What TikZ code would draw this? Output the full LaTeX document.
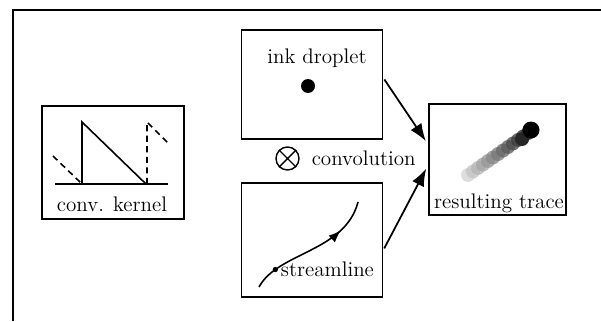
\documentclass[tikz,border=0pt]{standalone}
\usepackage{xcolor}
\usepackage{tikz}
\usetikzlibrary{arrows.meta,positioning,calc,decorations.markings}
\tikzset{
    panel/.style={rectangle, draw, line width=1pt, inner sep=0pt},
    caption/.style={font=\large, inner sep=1pt},
    kern/.style={line width=0.9pt},
    kerndash/.style={line width=0.9pt, dash pattern=on 3.5pt off 2.5pt},
    flow/.style={-{Latex[length=3.5mm, width=2.6mm]}, line width=1pt},
    frame/.style={line width=0.6pt},
}

\begin{document}
\begin{tikzpicture}[x=0.02cm, y=-0.02cm]
    \useasboundingbox (0,0) rectangle (601,321);
    \draw[frame] (13,321) |- (601,10);

    % panels
    \node[panel, minimum width=2.84cm, minimum height=2.26cm] (kernel) at (113,162.5) {};
    \node[panel, minimum width=2.82cm, minimum height=2.18cm] (ink) at (312,84.5) {};
    \node[panel, minimum width=2.82cm, minimum height=2.28cm] (stream) at (312,240) {};
    \node[panel, minimum width=2.74cm, minimum height=2.22cm] (trace) at (497.5,159.5) {};

    % kernel
    \draw[kern] (55,184) -- (168,184);
    \draw[kern] (82,184) -- (82,122) -- (146,184);
    \draw[kerndash] (53,156) -- (81,183);
    \draw[kerndash] (147,184) -- (147,122) -- (168,143);
    \node[caption] (kernellbl) at (112,204) {conv. kernel};

    % ink droplet
    \node[caption] (inklbl) at (317,58) {ink droplet};
    \node[circle, fill, minimum size=0.28cm, inner sep=0pt] (drop) at (308,86) {};

    % convolution
    \node[circle, draw, line width=0.8pt, minimum size=0.46cm, inner sep=0pt] (otimes) at (287.5,158.5) {};
    \draw[line width=0.8pt] (otimes.north west) -- (otimes.south east) (otimes.north east) -- (otimes.south west);
    \node[caption, right=0.2cm of otimes] (conv) {convolution};

    % streamline
    \draw[kern, postaction={decorate}, decoration={markings, mark=at position 0.75 with {\arrow{Latex[length=2.5mm]}}}]
        (259,287) .. controls (278,252) and (345,252) .. (358,202)
        node[pos=0.2, circle, fill, inner sep=0pt, minimum size=3pt] (sdot) {};
    \node[caption, right=0pt of sdot] (streamlbl) {streamline};

    % resulting trace
    \foreach \i in {0,...,12}
        \fill[black!\the\numexpr 18+6*\i\relax, opacity=0.75] (468+5*\i,175-3.5*\i) circle[radius=0.14cm];
    \fill[black!85] (522,139) circle[radius=0.14cm];
    \fill[black] (531,130) circle[radius=0.17cm];
    \node[caption] (tracelbl) at (499,203) {resulting trace};

    % arrows
    \draw[flow, shorten <=1pt, shorten >=2.3pt] ([yshift=0.13cm]ink.east) -- ([yshift=0.3cm]trace.west);
    \draw[flow, shorten <=1pt, shorten >=2.3pt] ([yshift=-0.2cm]stream.east) -- ([yshift=-0.11cm]trace.west);
\end{tikzpicture}
\end{document}
